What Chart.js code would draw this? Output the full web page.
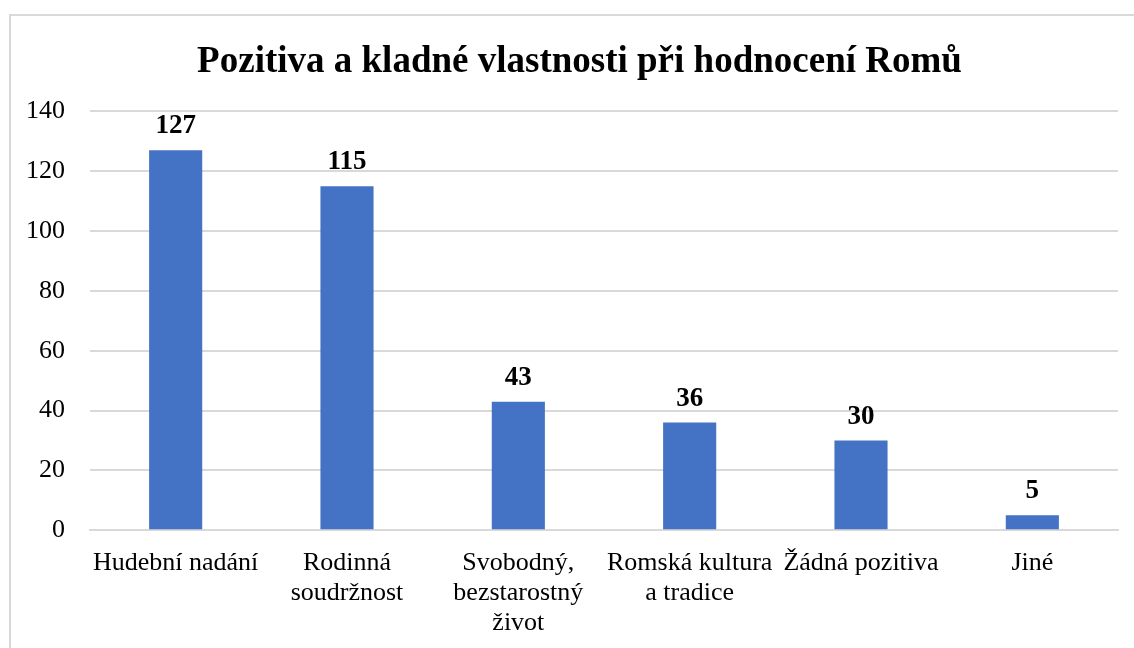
<!DOCTYPE html>
<html>
<head>
<meta charset="utf-8">
<script src="https://cdn.jsdelivr.net/npm/chart.js@4/dist/chart.umd.min.js"></script>
<style>
  html, body { margin: 0; padding: 0; background: #fff; overflow: hidden; }
  #frame { position: absolute; left: 9px; top: 14px; width: 1200px; height: 700px; border: 2px solid #d9d9d9; box-sizing: border-box; }
  #wrap { position: absolute; left: 0; top: 0; width: 1134px; height: 648px; }
</style>
</head>
<body>
<div id="frame"></div>
<div id="wrap"><canvas id="chart"></canvas></div>
<script>
// Data z grafu
const categories = [
  'Hudební nadání',
  ['Rodinná', 'soudržnost'],
  ['Svobodný,', 'bezstarostný', 'život'],
  ['Romská kultura', 'a tradice'],
  'Žádná pozitiva',
  'Jiné'
];
const values = [127, 115, 43, 36, 30, 5];
const yTicks = [0, 20, 40, 60, 80, 100, 120, 140];

const FONT = "'Liberation Serif', 'Times New Roman', serif";
const barColor = '#4472C4';
const gridColor = '#d9d9d9';

// popisky hodnot nad sloupci
const valueLabels = {
  id: 'valueLabels',
  afterDatasetsDraw(chart) {
    const ctx = chart.ctx;
    const meta = chart.getDatasetMeta(0);
    ctx.save();
    ctx.font = 'bold 27px ' + FONT;
    ctx.fillStyle = '#000';
    ctx.textAlign = 'center';
    ctx.textBaseline = 'alphabetic';
    meta.data.forEach((bar, i) => {
      ctx.fillText(String(values[i]), bar.x, bar.y - 17);
    });
    ctx.restore();
  }
};

// titulek trochu doprava (jako v originale)
const titleShift = {
  id: 'titleShift',
  afterLayout(chart) {
    if (chart.titleBlock) chart.titleBlock.left += 40;
  }
};

const ctx = document.getElementById('chart').getContext('2d');
new Chart(ctx, {
  type: 'bar',
  data: {
    labels: categories,
    datasets: [{
      data: values,
      backgroundColor: barColor,
      borderWidth: 0,
      barPercentage: 0.62,
      categoryPercentage: 0.5
    }]
  },
  options: {
    responsive: true,
    maintainAspectRatio: false,
    animation: false,
    layout: { padding: { left: 1, right: 16, top: 40, bottom: 0 } },
    plugins: {
      legend: { display: false },
      tooltip: { enabled: false },
      title: {
        display: true,
        text: 'Pozitiva a kladné vlastnosti při hodnocení Romů',
        color: '#000',
        font: { family: FONT, size: 37, weight: 'bold' },
        padding: { top: 0, bottom: 27 }
      }
    },
    scales: {
      x: {
        grid: { display: false },
        border: { display: true, color: gridColor, width: 2 },
        ticks: {
          color: '#000',
          font: { family: FONT, size: 26, lineHeight: 1.15 },
          maxRotation: 0,
          autoSkip: false,
          padding: 10
        }
      },
      y: {
        min: 0,
        max: 140,
        afterBuildTicks(axis) { axis.ticks = yTicks.map(v => ({ value: v })); },
        grid: { color: gridColor, lineWidth: 2, drawTicks: false },
        border: { display: false },
        ticks: {
          color: '#000',
          font: { family: FONT, size: 26 },
          padding: 25
        }
      }
    }
  },
  plugins: [valueLabels, titleShift]
});
</script>
</body>
</html>
